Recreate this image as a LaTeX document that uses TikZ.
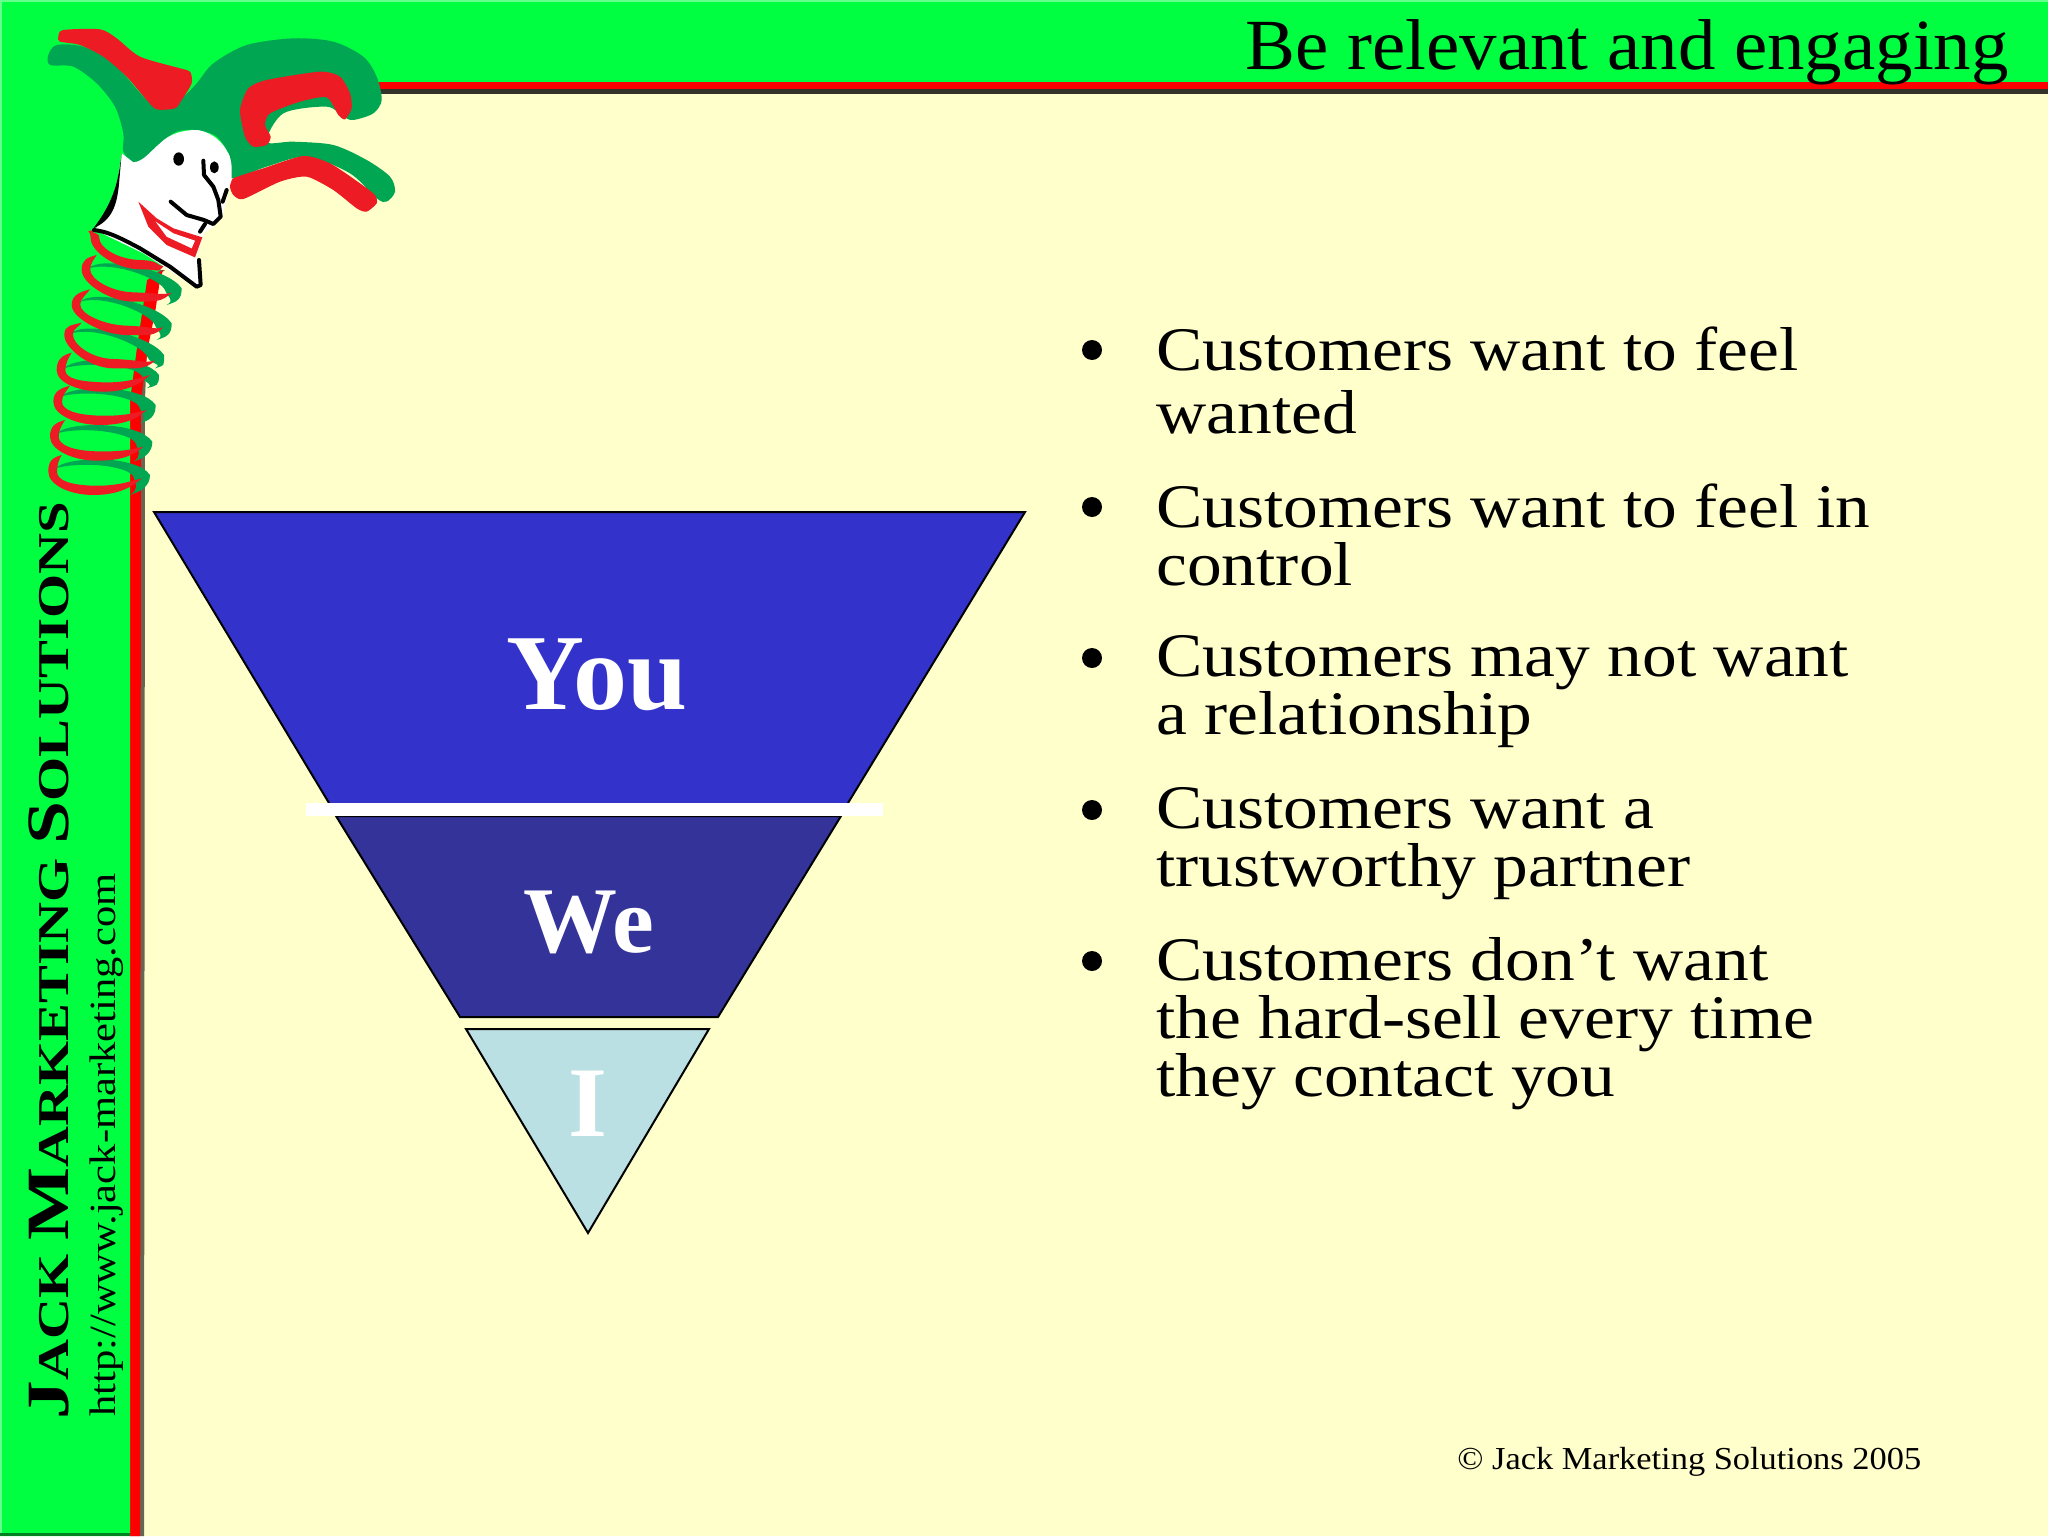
\documentclass[tikz,border=0pt]{standalone}
\usepackage{fontspec}
\setmainfont{Liberation Serif}
\newfontfamily\bodyfont[FakeStretch=1.12]{Liberation Serif}
\newfontfamily\titlefont[FakeStretch=1.04]{Liberation Serif}
\newfontfamily\copyfont[FakeStretch=1.075]{Liberation Serif}
\newfontfamily\urlfont[FakeStretch=1.15]{Liberation Serif}
\newfontfamily\brandfont[FakeStretch=1.29]{Liberation Serif Bold}
\definecolor{bandgreen}{HTML}{00FF40}
\definecolor{bandred}{HTML}{FF0000}
\definecolor{cream}{HTML}{FFFFCC}
\definecolor{hatgreen}{HTML}{00A651}
\definecolor{hatred}{HTML}{ED1C24}
\definecolor{youblue}{HTML}{3333CC}
\definecolor{weblue}{HTML}{333399}
\definecolor{ipale}{HTML}{BBE0E3}
\tikzset{
  funnel/.style={draw=black,line width=1pt,line join=miter},
  funneltext/.style={text=white,font=\bfseries\fontsize{#1}{#1}\selectfont,anchor=base,inner sep=0pt},
  bulletitem/.style={anchor=north west,inner sep=0pt,align=left,text=black,font=\bodyfont\fontsize{31}{29}\selectfont},
  bulletdot/.style={circle,fill=black,inner sep=0pt,minimum size=10pt},
  inkline/.style={draw=black,line width=2pt,line cap=round,line join=round},
}
\begin{document}
\begin{tikzpicture}[x=0.5pt,y=-0.5pt]
\useasboundingbox (0,0) rectangle (2048,1536);
\fill[cream] (0,0) rectangle (2048,1536);
% bands: the green field follows the slanted foot of the red stripe
\fill[black!80!cream] (300,89) rectangle (2048,94);
\fill[black!60!cream] (165,270) -- (152,280) -- (147,347) -- (145,400) -- (144,1536) -- (130,1536) -- (130,270) -- cycle;
\fill[bandred] (163,270) -- (160,280) -- (155,313) -- (148,347) -- (141,400) -- (140,1536) -- (130,1536) -- (130,400) -- (137,347) -- (142,313) -- (147,280) -- cycle;
\fill[bandred] (300,82) rectangle (2048,89);
\fill[bandgreen] (0,0) -- (2048,0) -- (2048,82) -- (230,82) -- (230,150) -- (200,200) -- (160,270) -- (147,280) -- (142,313) -- (137,347) -- (130,400) -- (130,1536) -- (0,1536) -- cycle;
\fill[bandgreen!60!white] (0,0) rectangle (2,1536);
\fill[bandgreen!60!white] (0,0) rectangle (2048,2);
\fill[black!50!bandgreen] (0,1533) rectangle (130,1536);
% spring and jester
\begin{scope}[shift={(0,220)},x=0.16667pt,y=-0.16667pt]
\foreach \Ax/\Ay/\Rx/\Ry/\Ex/\Ey in {265/145/545/205/500/255,240/245/515/310/470/360,213/340/492/405/465/445,190/445/477/465/440/505,180/530/467/555/420/610,170/640/457/665/400/725,165/745/450/765/390/825}{
  \fill[hatgreen] (\Ax,\Ay) .. controls (\Ax+40,\Ay-38) and (\Rx-40,\Ry-60) .. (\Rx,\Ry)
    .. controls (\Rx,\Ry+35) and (\Ex+30,\Ey-10) .. (\Ex,\Ey)
    .. controls (\Ex+25,\Ey-15) and (\Rx-40,\Ry+30) .. (\Rx-50,\Ry+5)
    .. controls (\Rx-65,\Ry-28) and (\Ax+80,\Ay-22) .. cycle;
}
\foreach \Sx/\Sy/\Lx/\Ly/\Bx/\By/\Tx/\Ty in {280/30/272/55/420/148/495/135,290/105/245/150/400/245/515/218,270/208/215/255/380/345/490/322,245/308/193/345/340/445/465/422,215/398/170/450/310/515/450/465,210/497/160/545/300/615/440/570,195/600/150/650/290/722/430/680,185/705/145/755/280/825/425/775}{
  \fill[hatred] (\Sx,\Sy) .. controls (\Sx-30,\Sy+8) and (\Lx,\Ly-30) .. (\Lx,\Ly)
    .. controls (\Lx,\Ly+40) and (\Bx-70,\By) .. (\Bx,\By)
    .. controls (\Bx+70,\By) and (\Tx-30,\Ty+28) .. (\Tx,\Ty)
    .. controls (\Tx-30,\Ty+8) and (\Bx+70,\By-26) .. (\Bx,\By-28)
    .. controls (\Bx-70,\By-30) and (\Lx+26,\Ly+26) .. (\Lx+26,\Ly)
    .. controls (\Lx+26,\Ly-22) and (\Sx-8,\Sy+14) .. cycle;
}
\end{scope}
\begin{scope}[x=0.16667pt,y=-0.16667pt]
\fill[hatgreen] plot[smooth cycle,tension=0.5] coordinates {(145,165) (170,135) (250,140) (340,190) (440,300) (490,325) (545,295) (590,250) (640,190) (740,135) (880,115) (1000,125) (1090,170) (1130,230) (1145,300) (1120,340) (1060,360) (1030,350) (980,320) (850,340) (800,425) (880,425) (1000,435) (1100,480) (1170,530) (1185,575) (1160,605) (1130,595) (1050,520) (920,470) (800,500) (695,535) (690,470) (650,410) (590,390) (530,395) (480,430) (430,480) (400,487) (370,455) (370,400) (345,320) (290,250) (220,200) (150,195)};
\fill[hatred] plot[smooth cycle,tension=0.45] coordinates {(175,110) (190,90) (300,88) (350,115) (420,170) (540,205) (570,215) (575,250) (545,300) (525,325) (470,328) (440,300) (380,230) (310,170) (240,135) (180,125)};
\fill[hatred] plot[smooth cycle,tension=0.4] coordinates {(720,330) (745,265) (800,240) (960,215) (1020,230) (1050,280) (1055,325) (1035,358) (1015,345) (980,292) (900,305) (810,340) (795,375) (812,410) (800,435) (760,440) (735,410)};
\fill[hatred] plot[smooth cycle,tension=0.4] coordinates {(690,560) (700,535) (790,505) (910,468) (990,490) (1080,550) (1125,585) (1130,610) (1100,635) (1070,625) (1000,570) (920,530) (840,545) (730,597) (700,585)};
% face
\fill[white] (365,460) -- (400,487) .. controls (430,485) and (450,455) .. (480,430) .. controls (510,400) and (550,390) .. (590,390) .. controls (640,395) and (690,440) .. (695,500) -- (695,540) -- (685,570) -- (670,640) -- (640,680) -- (610,700) -- (605,720) -- (590,770) -- (605,860) -- (585,860) -- (430,760) -- (285,690) -- (330,620) -- (355,530) -- cycle;
\fill[black] (365,460) .. controls (355,540) and (345,600) .. (280,685) .. controls (335,660) and (352,620) .. (358,540) -- cycle;
\draw[inkline] (282,690) .. controls (320,695) and (345,705) .. (420,745) -- (510,800) -- (590,860) -- (602,855) -- (597,780);
\fill[black] (536,477) ellipse[x radius=16,y radius=20];
\fill[black] (643,502) ellipse[x radius=13,y radius=18];
\draw[inkline] (610,482) -- (612,525) -- (640,560) -- (655,600) -- (662,650) -- (640,672) -- (612,660) -- (560,645) -- (512,605);
\draw[inkline] (680,570) -- (668,605);
\draw[inkline] (600,695) -- (615,672);
\fill[hatred] (415,605) -- (445,680) -- (500,735) -- (585,772) -- (607,712) -- (520,685) -- (470,655) -- cycle;
\fill[white] (467,665) -- (500,710) -- (575,745) -- (585,722) -- (520,700) -- cycle;
\end{scope}
% funnel
\fill[youblue] (154,512) -- (1025,512) -- (848,803) -- (329,803) -- cycle;
\draw[funnel] (329,803) -- (154,512) -- (1025,512) -- (848,803);
\draw[funnel,fill=weblue] (336,816) -- (841,816) -- (718,1017) -- (460,1017) -- cycle;
\fill[white] (306,803) rectangle (883,816);
\draw[funnel,fill=ipale] (466,1029) -- (709,1029) -- (588,1233) -- cycle;
\node[funneltext=54] (you) at (597,709) {You};
\node[funneltext=47] (we) at (589,952) {We};
\node[funneltext=50] (i) at (588,1136) {I};
% texts
\node[anchor=base east,inner sep=0pt,text=black,font=\titlefont\fontsize{36}{36}\selectfont] (title) at (2009,69) {Be relevant and engaging};
\node[rotate=90,anchor=base west,inner sep=0pt,text=black,font=\brandfont] (brand) at (68,1420) {\fontsize{30}{30}\selectfont J\fontsize{22}{22}\selectfont ACK \fontsize{30}{30}\selectfont M\fontsize{22}{22}\selectfont ARKETING \fontsize{30}{30}\selectfont S\fontsize{22}{22}\selectfont OLUTIONS};
\node[rotate=90,anchor=base west,inner sep=0pt,text=black,font=\urlfont\fontsize{18.5}{18.5}\selectfont] (url) at (115,1417) {http://www.jack-marketing.com};
\node[bulletdot] (d1) at (1092,350) {};
\node[bulletdot] (d2) at (1092,507) {};
\node[bulletdot] (d3) at (1092,658) {};
\node[bulletdot] (d4) at (1092,810) {};
\node[bulletdot] (d5) at (1092,961) {};
\node[bulletitem] (b1) at (1156,326) {Customers want to feel\\[2.5pt]wanted};
\node[bulletitem] (b2) at (1156,483) {Customers want to feel in\\control};
\node[bulletitem] (b3) at (1156,635) {Customers may not want\\a relationship};
\node[bulletitem] (b4) at (1156,787) {Customers want a\\trustworthy partner};
\node[bulletitem] (b5) at (1156,937) {Customers don’t want\\the hard-sell every time\\they contact you};
\node[anchor=base west,inner sep=0pt,text=black,font=\copyfont\fontsize{16}{16}\selectfont] (copy) at (1457,1469) {© Jack Marketing Solutions 2005};
\end{tikzpicture}
\end{document}
